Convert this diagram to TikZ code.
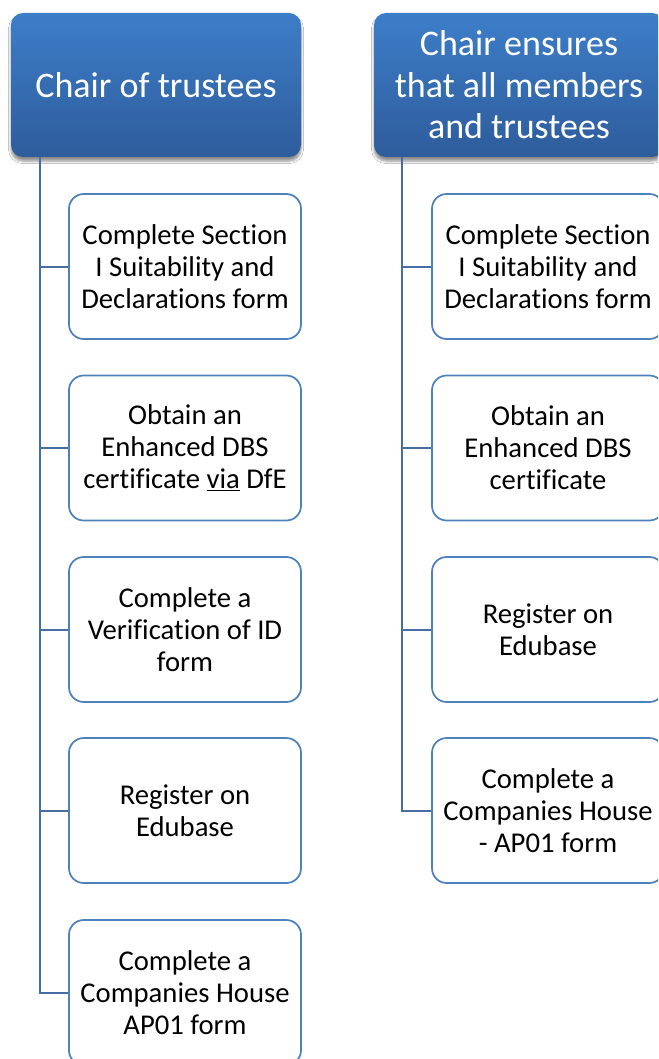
\documentclass[tikz,border=0pt]{standalone}
\usepackage{fontspec}
\setmainfont{Carlito}[Ligatures=NoCommon]
\usetikzlibrary{shadows.blur}
\definecolor{headtop}{RGB}{61,126,201}
\definecolor{headbot}{RGB}{46,92,155}
\definecolor{boxline}{RGB}{79,129,189}
\definecolor{conline}{RGB}{70,110,165}
\tikzset{
  headbox/.style={rounded corners=9pt, top color=headtop, bottom color=headbot,
    draw=none, minimum width=217.5pt, minimum height=108pt,
    align=center, text=white, font=\fontsize{27}{31.2}\selectfont, inner sep=0pt,
    blur shadow={shadow xshift=0pt, shadow yshift=-3pt, shadow opacity=45, shadow blur steps=6}},
  stepbox/.style={rounded corners=11pt, draw=boxline, line width=1.3pt, fill=white,
    minimum width=174pt, minimum height=108.75pt, align=center,
    font=\fontsize{21.5}{24}\selectfont, inner sep=0pt},
  conn/.style={draw=conline, line width=1.5pt}
}
\begin{document}
\begin{tikzpicture}[x=0.75pt,y=-0.75pt]
\useasboundingbox (0,0) rectangle (658,1059);
\clip (0,0) rectangle (658,1059);
\fill[white] (0,0) rectangle (658,1059);
% left column
\node[headbox] (hl) at (156,85) {Chair of trustees};
\coordinate (lt) at (40,157);
\node[stepbox] (l1) at (185,266.5) {Complete Section\\I Suitability and\\Declarations form};
\node[stepbox] (l2) at (185,448) {Obtain an\\Enhanced DBS\\certificate \underline{via} DfE};
\node[stepbox] (l3) at (185,629.5) {Complete a\\Verification of ID\\form};
\node[stepbox] (l4) at (185,810.5) {Register on\\Edubase};
\node[stepbox] (l5) at (185,992.5) {Complete a\\Companies House\\AP01 form};
\draw[conn] (lt) |- (l5.west);
\foreach \n in {l1,l2,l3,l4} \draw[conn] (\n.west -| lt) -- (\n.west);
% right column
\node[headbox] (hr) at (519,85) {Chair ensures\\that all members\\and trustees};
\coordinate (rt) at (402,157);
\node[stepbox] (r1) at (548,266.5) {Complete Section\\I Suitability and\\Declarations form};
\node[stepbox] (r2) at (548,448) {Obtain an\\Enhanced DBS\\certificate};
\node[stepbox] (r3) at (548,629.5) {Register on\\Edubase};
\node[stepbox] (r4) at (548,810.5) {Complete a\\Companies House\\- AP01 form};
\draw[conn] (rt) |- (r4.west);
\foreach \n in {r1,r2,r3} \draw[conn] (\n.west -| rt) -- (\n.west);
\end{tikzpicture}
\end{document}
